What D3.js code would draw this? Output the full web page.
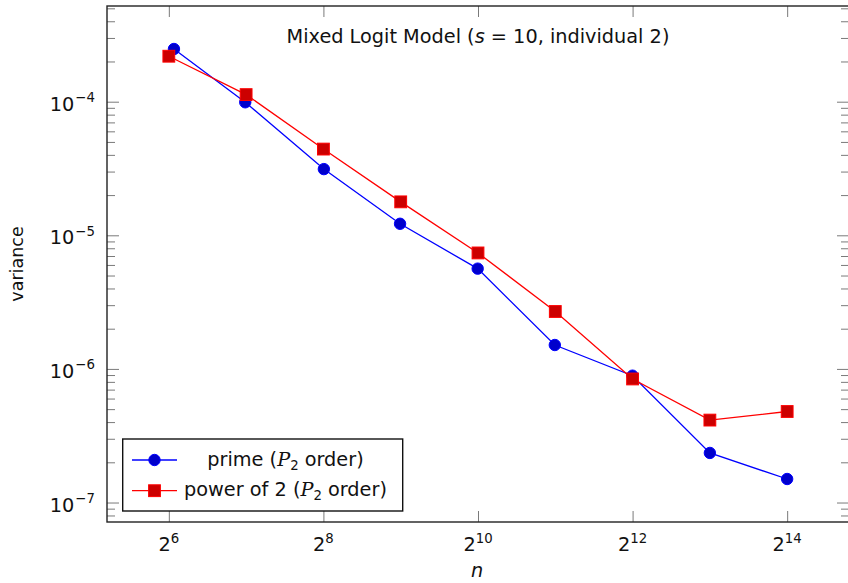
<!DOCTYPE html>
<html><head><meta charset="utf-8">
<script src="https://cdn.jsdelivr.net/npm/d3@7"></script>
<style>
body{margin:0;background:#fff;}
svg{display:block;font-family:"DejaVu Sans",sans-serif;}
</style></head>
<body><svg id="chart" width="848" height="583"></svg>
<script>
// ---- data ----
const primeN   = [67, 127, 257, 509, 1021, 2039, 4093, 8191, 16381];
const primeVar = [2.48e-4, 9.9e-5, 3.13e-5, 1.22e-5, 5.63e-6, 1.51e-6, 8.9e-7, 2.35e-7, 1.50e-7];
const pow2N    = [64, 128, 256, 512, 1024, 2048, 4096, 8192, 16384];
const pow2Var  = [2.19e-4, 1.13e-4, 4.42e-5, 1.78e-5, 7.38e-6, 2.69e-6, 8.41e-7, 4.14e-7, 4.80e-7];
const xTickExp = [6, 8, 10, 12, 14];
const yTickExp = [-7, -6, -5, -4];
const seriesNames = ["prime", "power of 2"];

const svg = d3.select("#chart");
const L = 107, R = 849, T = 6, B = 522;
const FS = 19.3, SFS = 13.3;

// log-space 10% enlargement like pgfplots
const lx = d3.extent([...primeN, ...pow2N].map(Math.log2));
const ly = d3.extent([...primeVar, ...pow2Var].map(Math.log10));
const ex = (lx[1]-lx[0])*0.1, ey = (ly[1]-ly[0])*0.1;
const x = d3.scaleLog().base(2).domain([2**(lx[0]-ex), 2**(lx[1]+ex)]).range([L, R]);
const y = d3.scaleLog().domain([10**(ly[0]-ey), 10**(ly[1]+ey)]).range([B, T]);

const tickColor = "#7a7a7a";
const majorX = xTickExp.map(e => 2**e);
const majorY = yTickExp.map(e => 10**e);
const minorY = [];
for (let e = -8; e <= -3; e++) for (let m = 2; m <= 9; m++) {
  const v = m * 10**e;
  if (v > y.domain()[0] && v < y.domain()[1]) minorY.push(v);
}

function styleAxis(g){
  g.select(".domain").remove();
  g.selectAll("line").attr("stroke", tickColor).attr("stroke-width", 1);
}
svg.append("g").attr("transform",`translate(0,${B})`)
  .call(d3.axisBottom(x).tickValues(majorX).tickSize(-11).tickFormat("")).call(styleAxis);
svg.append("g").attr("transform",`translate(0,${T})`)
  .call(d3.axisTop(x).tickValues(majorX).tickSize(-11).tickFormat("")).call(styleAxis);
svg.append("g").attr("transform",`translate(${L},0)`)
  .call(d3.axisLeft(y).tickValues(majorY).tickSize(-12).tickFormat("")).call(styleAxis);
svg.append("g").attr("transform",`translate(${L},0)`)
  .call(d3.axisLeft(y).tickValues(minorY).tickSize(-8).tickFormat("")).call(styleAxis);
svg.append("g").attr("transform",`translate(${R},0)`)
  .call(d3.axisRight(y).tickValues(majorY).tickSize(-12).tickFormat("")).call(styleAxis);
svg.append("g").attr("transform",`translate(${R},0)`)
  .call(d3.axisRight(y).tickValues(minorY).tickSize(-8).tickFormat("")).call(styleAxis);

// frame
svg.append("rect").attr("x",L).attr("y",T).attr("width",R-L).attr("height",B-T)
  .attr("fill","none").attr("stroke","#222").attr("stroke-width",1.4);

// y tick labels
yTickExp.forEach(e => {
  const t = svg.append("text").attr("x", 95).attr("y", y(10**e)+9)
    .attr("text-anchor","end").attr("font-size",FS).attr("fill","#111");
  t.append("tspan").text("10");
  t.append("tspan").attr("dy",-8.7).attr("dx",0.5).attr("font-size",SFS).text("\u2212");
  t.append("tspan").attr("dx",0.5).attr("font-size",SFS).text(String(Math.abs(e)));
});
// x tick labels
xTickExp.forEach(e => {
  const t = svg.append("text").attr("x", x(2**e)).attr("y", 550.5)
    .attr("text-anchor","middle").attr("font-size",FS).attr("fill","#111");
  t.append("tspan").text("2");
  t.append("tspan").attr("dy",-8).attr("font-size",SFS).text(String(e));
});

// axis labels
svg.append("text").attr("x",(L+R)/2 - 1).attr("y",577).attr("text-anchor","middle")
  .attr("font-size",FS).attr("font-style","italic").attr("fill","#111").text("n");
svg.append("text").attr("transform",`translate(23,${(T+B)/2}) rotate(-90)`)
  .attr("text-anchor","middle").attr("font-size",17.5).attr("fill","#111").text("variance");

// title
const title = svg.append("text").attr("x",478).attr("y",43).attr("text-anchor","middle")
  .attr("font-size",FS).attr("fill","#111");
title.append("tspan").text("Mixed Logit Model (");
title.append("tspan").attr("font-style","italic").text("s");
title.append("tspan").text(" = 10, individual 2)");

// lines
const line = d3.line().x(d => x(d[0])).y(d => y(d[1]));
const pData = primeN.map((n,i)=>[n, primeVar[i]]);
const qData = pow2N.map((n,i)=>[n, pow2Var[i]]);
svg.append("path").datum(pData).attr("d",line).attr("fill","none").attr("stroke","#0000ff").attr("stroke-width",1.3);
svg.append("path").datum(qData).attr("d",line).attr("fill","none").attr("stroke","#ff0000").attr("stroke-width",1.3);
svg.selectAll(".pm").data(pData).join("circle").attr("class","pm")
  .attr("cx",d=>x(d[0])).attr("cy",d=>y(d[1])).attr("r",5.7)
  .attr("fill","#0000cc").attr("stroke","#0000ff").attr("stroke-width",1);
svg.selectAll(".qm").data(qData).join("rect").attr("class","qm")
  .attr("x",d=>x(d[0])-5.9).attr("y",d=>y(d[1])-5.9).attr("width",11.8).attr("height",11.8)
  .attr("fill","#cc0000").attr("stroke","#ff0000").attr("stroke-width",1);

// legend
const lg = svg.append("g");
lg.append("rect").attr("x",122.7).attr("y",439).attr("width",280).attr("height",72)
  .attr("fill","#fff").attr("stroke","#111").attr("stroke-width",1.4);
const rows = [460, 490.7];
seriesNames.forEach((name,i) => {
  const yy = rows[i];
  const col = i===0 ? "#0000ff" : "#ff0000";
  lg.append("line").attr("x1",132).attr("x2",177).attr("y1",yy).attr("y2",yy)
    .attr("stroke",col).attr("stroke-width",1.3);
  if (i===0) lg.append("circle").attr("cx",154.5).attr("cy",yy).attr("r",5.7)
      .attr("fill","#0000cc").attr("stroke","#0000ff");
  else lg.append("rect").attr("x",154.5-5.9).attr("y",yy-5.9).attr("width",11.8).attr("height",11.8)
      .attr("fill","#cc0000").attr("stroke","#ff0000");
  const t = lg.append("text").attr("x",285.5).attr("y",yy+5.5).attr("text-anchor","middle")
    .attr("font-size",FS).attr("fill","#111");
  t.append("tspan").text(name + " (");
  t.append("tspan").attr("font-family","'DejaVu Serif',serif").attr("font-style","italic").text("P");
  t.append("tspan").attr("dy",4).attr("font-size",SFS).text("2");
  t.append("tspan").attr("dy",-4).text(" order)");
});
</script></body></html>
